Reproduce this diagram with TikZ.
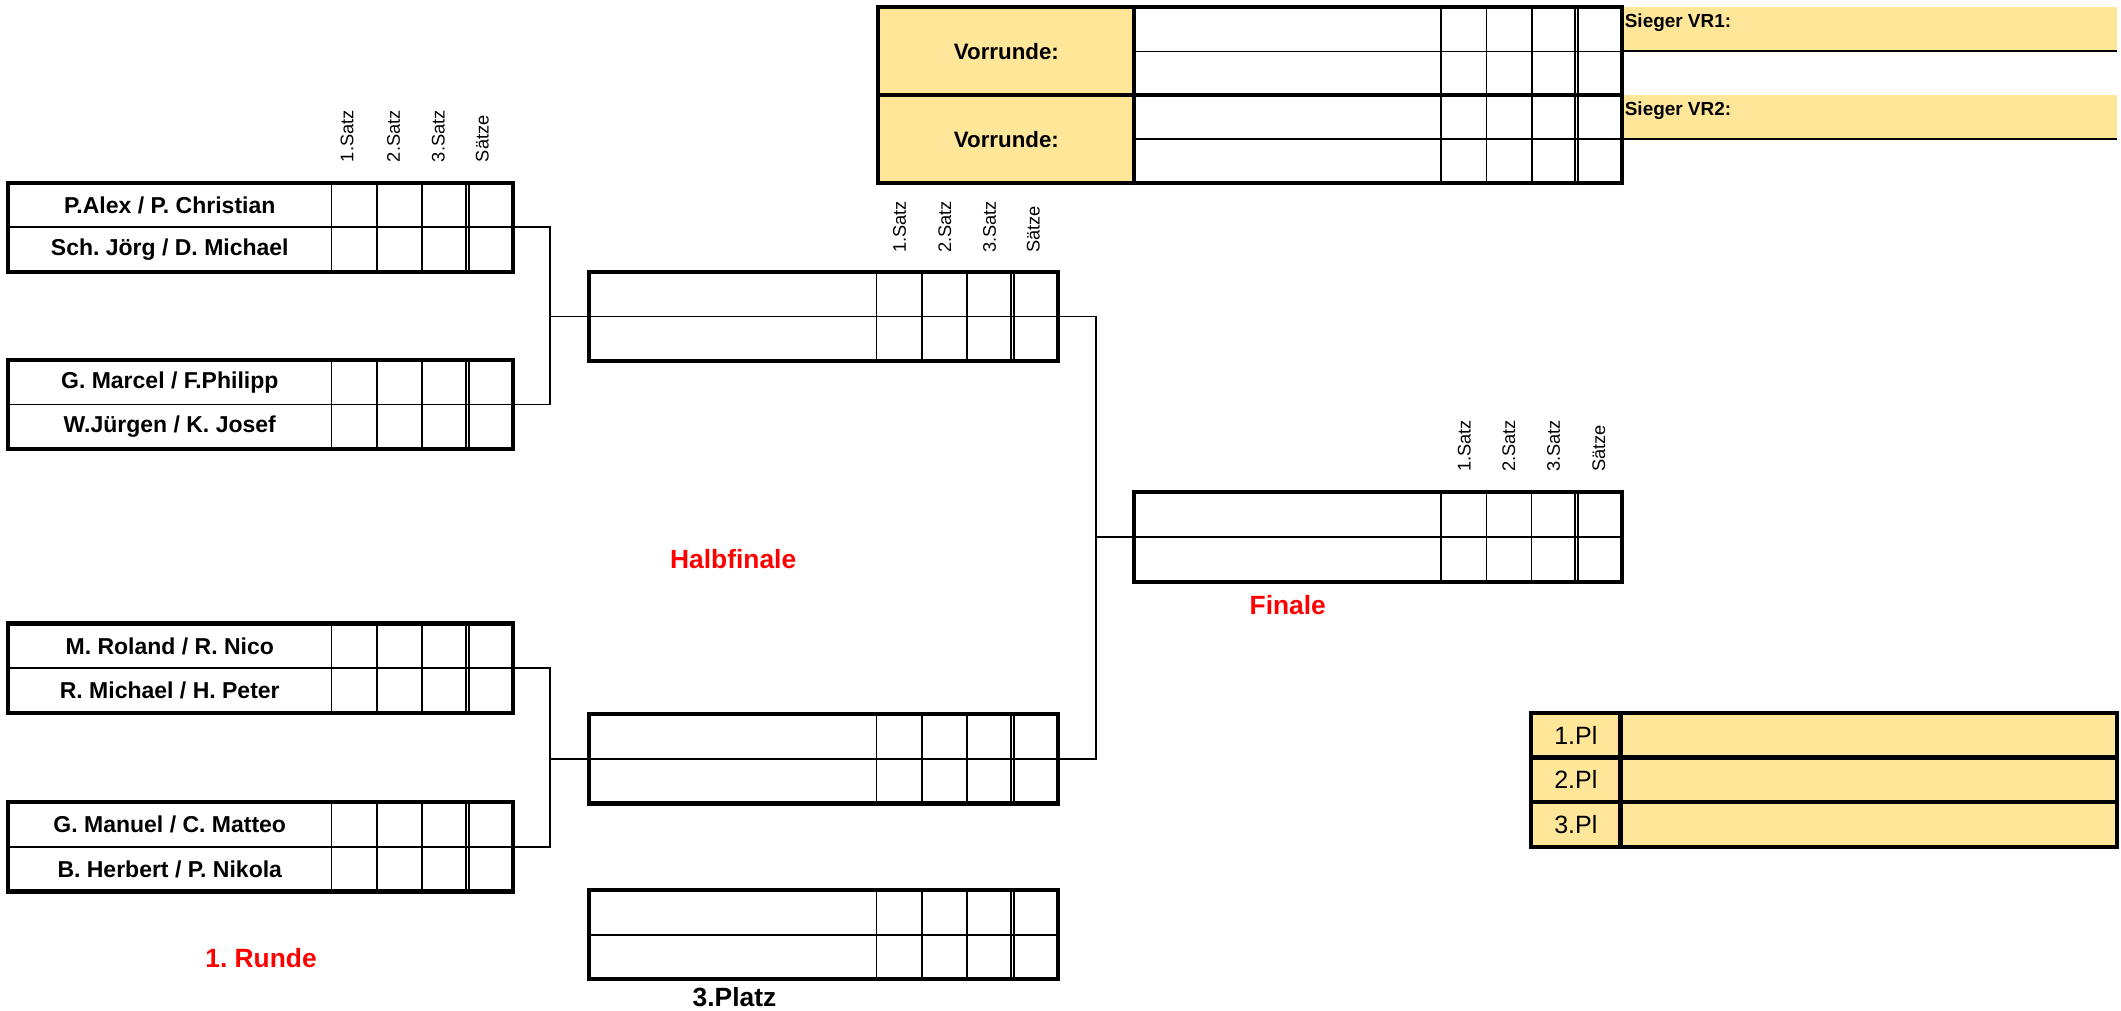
\documentclass[tikz,border=0pt]{standalone}
\usepackage{fontspec}
\setmainfont{Liberation Sans}
\frenchspacing
\definecolor{gold}{RGB}{255,230,153}
\newcommand\matchbox[7]{%
  \pgfmathsetmacro\mbw{(#5-#4)/4}%
  \pgfmathsetmacro\mbA{#4+\mbw}%
  \pgfmathsetmacro\mbB{#4+2*\mbw}%
  \pgfmathsetmacro\mbC{#4+3*\mbw}%
  \draw[thinline] (#2,#3+33) -- (#5,#3+33);
  \foreach \xx in {#4,\mbA,\mbB} \draw[thinline] (\xx,#3) -- (\xx,#3+66);
  \draw[thinline] (\mbC-1.2,#3) -- (\mbC-1.2,#3+66) (\mbC+1.2,#3) -- (\mbC+1.2,#3+66);
  \draw[thickline] (#2,#3) rectangle (#5,#3+66);
  \coordinate (#1-w) at (#2,#3+33);
  \coordinate (#1-e) at (#5,#3+33);
  \if\relax\detokenize{#6}\relax\else
    \node[nametext] (#1-a) at ({(#2+#4)/2},#3+16.5) {#6};
    \node[nametext] (#1-b) at ({(#2+#4)/2},#3+49.5) {#7};
  \fi
}
\newcommand\hdrs[6]{%
  \node[hdr] (#1-1) at (#2,#6) {1.Satz};
  \node[hdr] (#1-2) at (#3,#6) {2.Satz};
  \node[hdr] (#1-3) at (#4,#6) {3.Satz};
  \node[hdr] (#1-4) at (#5,#6) {Sätze};
}
\begin{document}
\begin{tikzpicture}[x=1pt,y=-1pt,
  thickline/.style={line width=3.1pt},
  thinline/.style={line width=1.3pt},
  conn/.style={line width=1.3pt},
  sline/.style={line width=1.6pt},
  nametext/.style={font=\fontsize{17}{19}\selectfont\bfseries, inner sep=0pt},
  hdr/.style={font=\fontsize{13.5}{15}\selectfont, rotate=90, anchor=west, inner sep=0pt},
  lbl/.style={font=\fontsize{19.5}{22}\selectfont\bfseries, text=red, inner sep=0pt},
  vr/.style={font=\fontsize{16.5}{18}\selectfont\bfseries, inner sep=0pt},
  sieger/.style={font=\fontsize{14}{16}\selectfont\bfseries, inner sep=0pt, anchor=west},
  place/.style={font=\fontsize{18.5}{20}\selectfont, inner sep=0pt}]
\useasboundingbox (0,0) rectangle (1568,747);

% ---------- Vorrunde table ----------
\fill[gold] (649,5) rectangle (838.5,135);
\fill[gold] (1199,5) rectangle (1565,38);
\fill[gold] (1199,70) rectangle (1565,103);
\draw[thinline] (838.5,38) -- (1199,38) (838.5,103) -- (1199,103);
\foreach \xx in {1065.5,1099,1132.5} \draw[thinline] (\xx,5) -- (\xx,135);
\draw[thinline] (1164.3,5) -- (1164.3,135) (1166.7,5) -- (1166.7,135);
\draw[sline] (1199,38) -- (1565,38) (1199,103) -- (1565,103);
\draw[thickline] (649,5) rectangle (1199,135);
\draw[thickline] (649,70) -- (1199,70) (838.5,5) -- (838.5,135);
\node[vr] (vr1) at (744,38) {Vorrunde:};
\node[vr] (vr2) at (744,103) {Vorrunde:};
\node[sieger] (s1) at (1201,17) {Sieger VR1:};
\node[sieger] (s2) at (1201,82) {Sieger VR2:};

% ---------- headers ----------
\hdrs{hA}{256.5}{291}{324}{356.5}{120}
\hdrs{hB}{665}{698.5}{731.5}{764}{187}
\hdrs{hC}{1082.5}{1115.5}{1148.5}{1182}{349}

% ---------- 1. Runde ----------
\matchbox{m1}{6}{135}{245}{379}{P.Alex / P. Christian}{Sch. Jörg / D. Michael}
\matchbox{m2}{6}{266}{245}{379}{G. Marcel / F.Philipp}{W.Jürgen / K. Josef}
\matchbox{m3}{6}{461}{245}{379}{M. Roland / R. Nico}{R. Michael / H. Peter}
\matchbox{m4}{6}{593}{245}{379}{G. Manuel / C. Matteo}{B. Herbert / P. Nikola}

% ---------- Halbfinale, 3.Platz, Finale ----------
\matchbox{hf1}{435.5}{201}{648}{782}{}{}
\matchbox{hf2}{435.5}{528}{648}{782}{}{}
\matchbox{p3}{435.5}{658}{648}{782}{}{}
\matchbox{fin}{838.5}{364}{1065.5}{1199}{}{}

% ---------- connectors ----------
\coordinate (j1) at (406.5,234);
\coordinate (j2) at (406.5,561);
\coordinate (j3) at (810.5,397);
\draw[conn] (m1-e) -| (j1) (m2-e) -| (j1) (j1) -- (hf1-w);
\draw[conn] (m3-e) -| (j2) (m4-e) -| (j2) (j2) -- (hf2-w);
\draw[conn] (hf1-e) -| (j3) (hf2-e) -| (j3) (j3) -- (fin-w);

% ---------- Platzierung ----------
\fill[gold] (1132,527) rectangle (1565,626);
\draw[thickline] (1132,527) rectangle (1565,626);
\draw[thickline] (1132,560) -- (1565,560) (1132,593) -- (1565,593) (1198,527) -- (1198,626);
\node[place] (pl1) at (1165,543.5) {1.Pl};
\node[place] (pl2) at (1165,576.5) {2.Pl};
\node[place] (pl3) at (1165,609.5) {3.Pl};

% ---------- labels ----------
\node[lbl] (lhf) at (542,413) {Halbfinale};
\node[lbl] (lfin) at (952,447) {Finale};
\node[lbl] (lr1) at (193,708) {1. Runde};
\node[lbl, text=black] (lp3) at (543,737) {3.Platz};
\end{tikzpicture}
\end{document}
